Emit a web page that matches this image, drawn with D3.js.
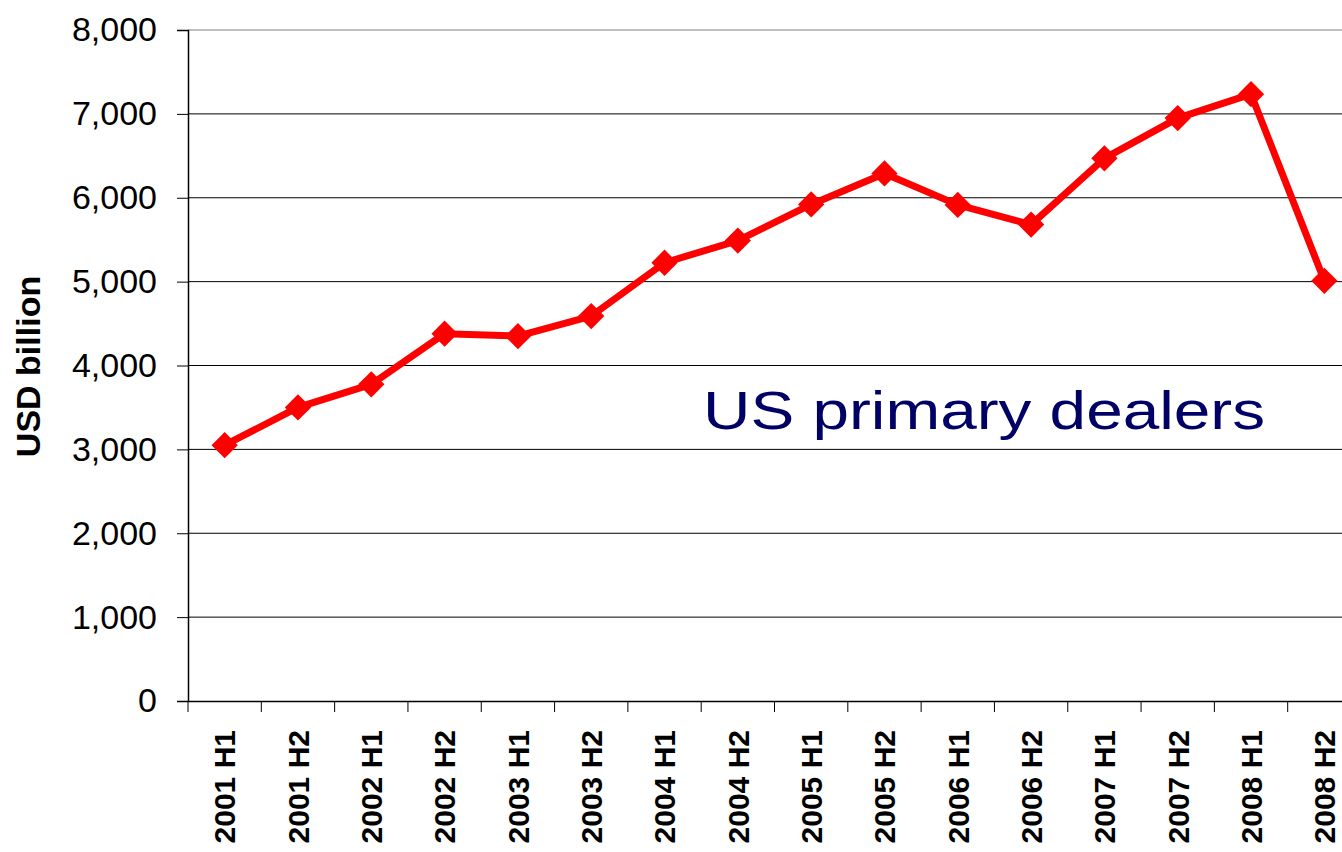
<!DOCTYPE html>
<html>
<head>
<meta charset="utf-8">
<script src="https://cdn.jsdelivr.net/npm/d3@7"></script>
<style>
  body { margin: 0; background: #fff; }
  svg { display: block; font-family: "Liberation Sans", Arial, sans-serif; }
</style>
</head>
<body>
<svg id="mychart" width="1342" height="852"></svg>
<script>
const width = 1342
const height = 852
const margin = ({top: 30, right: -19, bottom: 151, left: 188})

const periods = ["2001 H1", "2001 H2", "2002 H1", "2002 H2", "2003 H1", "2003 H2",
  "2004 H1", "2004 H2", "2005 H1", "2005 H2", "2006 H1", "2006 H2",
  "2007 H1", "2007 H2", "2008 H1", "2008 H2"]
const values = [3050, 3500, 3775, 4380, 4350, 4590, 5225, 5490, 5920, 6290, 5915, 5680, 6470, 6950, 7235, 5010]
const yTicks = [0, 1000, 2000, 3000, 4000, 5000, 6000, 7000, 8000]

const x = d3.scaleBand()
    .domain(periods)
    .range([margin.left, width - margin.right])

const y = d3.scaleLinear()
    .domain([0, 8000])
    .range([height - margin.bottom, margin.top])

const svg = d3.select('#mychart')

// gridlines
svg.append("g")
    .selectAll("line")
    .data(yTicks.filter(d => d > 0))
    .join("line")
    .attr("x1", margin.left)
    .attr("x2", width)
    .attr("y1", d => y(d))
    .attr("y2", d => y(d))
    .attr("stroke", d => d === 8000 ? "#808080" : "#000")
    .attr("stroke-width", 1)

// y axis
svg.append("g")
    .attr("transform", `translate(${margin.left},0)`)
    .call(d3.axisLeft(y).tickValues(yTicks).tickFormat(d3.format(",")).tickSize(11).tickPadding(20))
    .call(g => g.select(".domain").attr("stroke", "#000").attr("stroke-width", 1.5))
    .call(g => g.selectAll(".tick line").attr("stroke", "#000"))
    .call(g => g.selectAll(".tick text")
        .attr("font-size", 34)
        .attr("font-family", "Liberation Sans, Arial, sans-serif")
        .attr("fill", "#000"))

// x axis
svg.append("g")
    .attr("transform", `translate(0,${y(0)})`)
    .call(d3.axisBottom(x).tickSize(0).tickSizeOuter(0))
    .call(g => g.select(".domain").attr("stroke", "#000").attr("stroke-width", 1.5))
    .call(g => g.selectAll(".tick text")
        .attr("transform", "rotate(-90)")
        .attr("text-anchor", "end")
        .attr("x", -29)
        .attr("y", 0)
        .attr("dy", "0.36em")
        .attr("font-size", 30)
        .attr("font-weight", "bold")
        .attr("font-family", "Liberation Sans, Arial, sans-serif")
        .attr("fill", "#000"))

// x tick marks at band boundaries
svg.append("g")
    .selectAll("line")
    .data(periods)
    .join("line")
    .attr("x1", d => x(d))
    .attr("x2", d => x(d))
    .attr("y1", y(0))
    .attr("y2", y(0) + 11)
    .attr("stroke", "#000")

// y label
svg.append("text")
    .attr("transform", `translate(40,${(y(0) + y(8000)) / 2 + 1}) rotate(-90)`)
    .attr("text-anchor", "middle")
    .attr("font-size", 34)
    .attr("font-weight", "bold")
    .text("USD billion")

// line
const line = d3.line()
    .x((d, i) => x(periods[i]) + x.bandwidth() / 2)
    .y(d => y(d))

svg.append("path")
    .datum(values)
    .attr("fill", "none")
    .attr("stroke", "#ff0000")
    .attr("stroke-width", 7)
    .attr("stroke-linejoin", "round")
    .attr("d", line)

svg.append("g")
    .attr("fill", "#ff0000")
    .selectAll("path")
    .data(values)
    .join("path")
    .attr("d", d3.symbol(d3.symbolDiamond2, 440))
    .attr("transform", (d, i) => `translate(${x(periods[i]) + x.bandwidth() / 2},${y(d)})`)

// annotation
svg.append("text")
    .attr("x", 703)
    .attr("y", 429)
    .attr("font-size", 53)
    .attr("fill", "#000066")
    .attr("font-family", "Liberation Sans, Arial, sans-serif")
    .attr("textLength", 562)
    .attr("lengthAdjust", "spacingAndGlyphs")
    .text("US primary dealers")
</script>
</body>
</html>
